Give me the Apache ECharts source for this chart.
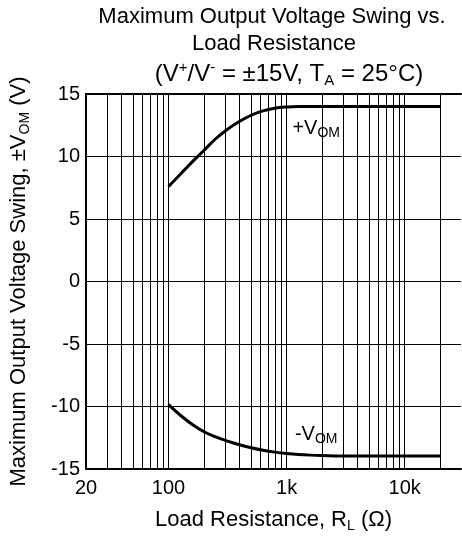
<!DOCTYPE html>
<html><head><meta charset="utf-8">
<script src="https://cdn.jsdelivr.net/npm/echarts@6/dist/echarts.min.js"></script>
<style>html,body{margin:0;padding:0;background:#fff}#c{width:462px;height:538px}</style>
</head><body><div id="c"></div>
<script>
// +V_OM curve (load resistance in ohms, volts)
const rPlus = [100, 126, 158, 200, 251, 316, 398, 501, 631, 794, 1000, 1259, 1585, 2000, 5000, 10000, 20000];
const vPlus = [7.6, 8.58, 9.55, 10.5, 11.42, 12.18, 12.8, 13.3, 13.65, 13.86, 13.96, 14.0, 14.0, 14.0, 14.0, 14.0, 14.0];
// -V_OM curve
const rMinus = [100, 126, 158, 200, 251, 316, 398, 501, 631, 794, 1000, 1259, 1585, 2000, 3000, 5000, 10000, 20000];
const vMinus = [-9.85, -10.7, -11.42, -12.02, -12.43, -12.77, -13.06, -13.3, -13.5, -13.65, -13.76, -13.84, -13.89, -13.92, -13.95, -13.95, -13.95, -13.95];
// axis ticks
const xTickLabels = [20, 100, 1000, 10000];
const xGridValues = [30, 40, 50, 60, 70, 80, 90, 100, 200, 300, 400, 500, 600, 700, 800, 900, 1000, 2000, 3000, 4000, 5000, 6000, 7000, 8000, 9000, 10000, 20000];
const yMin = -15, yMax = 15, yStep = 5;
const xMin = 20, xMax = 30000;
// curve label anchors
const plusLabelAt = [1780, 12.25];
const minusLabelAt = [1780, -12.2];

const FF = '"Liberation Sans", Arial, Helvetica, sans-serif';
const chart = echarts.init(document.getElementById('c'), null, {renderer: 'canvas'});

const subRich = {
  n: {fontSize: 20, fontFamily: FF, color: '#000', lineHeight: 24},
  s: {fontSize: 14, fontFamily: FF, color: '#000', lineHeight: 14, verticalAlign: 'bottom'}
};
const fmtK = v => v >= 1000 ? (v / 1000) + 'k' : String(v);

const option = {
  backgroundColor: '#fff',
  animation: false,
  grid: {left: 83, right: 1, top: 94, bottom: 69, containLabel: false},
  graphic: [
    {type: 'text', x: 272, y: 17, style: {text: 'Maximum Output Voltage Swing vs.', fontSize: 22, fontFamily: FF, fill: '#000', align: 'center', verticalAlign: 'middle', textAlign: 'center', textVerticalAlign: 'middle'}},
    {type: 'text', x: 274, y: 44, style: {text: 'Load Resistance', fontSize: 22, fontFamily: FF, fill: '#000', align: 'center', verticalAlign: 'middle', textAlign: 'center', textVerticalAlign: 'middle'}},
    {type: 'text', x: 289, y: 74, style: {
      text: '{m|(V}{p|+}{m|/V}{p|-}{m| = \u00b115V, T}{b|A}{m| = 25\u00b0C)}',
      align: 'center', verticalAlign: 'middle', textAlign: 'center', textVerticalAlign: 'middle',
      rich: {
        m: {fontSize: 24, fontFamily: FF, fill: '#000', color: '#000', lineHeight: 28},
        p: {fontSize: 15, fontFamily: FF, fill: '#000', color: '#000', lineHeight: 15, verticalAlign: 'top'},
        b: {fontSize: 15, fontFamily: FF, fill: '#000', color: '#000', lineHeight: 15, verticalAlign: 'bottom'}
      }
    }}
  ],
  xAxis: [{
    type: 'log', logBase: 10, min: xMin, max: xMax,
    position: 'bottom',
    name: '{n|Load Resistance, R}{s|L}{n| (\u03a9)}',
    nameLocation: 'middle', nameGap: 38,
    nameTextStyle: {rich: {
      n: {fontSize: 22, fontFamily: FF, color: '#000', lineHeight: 26},
      s: {fontSize: 14, fontFamily: FF, color: '#000', lineHeight: 14, verticalAlign: 'bottom'}
    }},
    axisLine: {show: true, onZero: false, lineStyle: {color: '#000', width: 2}},
    axisTick: {show: false},
    splitLine: {show: false},
    minorTick: {show: false},
    axisLabel: {customValues: xTickLabels, formatter: fmtK, fontSize: 20, fontFamily: FF, color: '#000', margin: 9}
  }, {
    type: 'log', logBase: 10, min: xMin, max: xMax, position: 'top',
    axisLine: {show: true, onZero: false, lineStyle: {color: '#000', width: 2}},
    axisTick: {show: false}, axisLabel: {show: false}, splitLine: {show: false}
  }],
  yAxis: {
    type: 'value', min: yMin, max: yMax, interval: yStep,
    name: '{n|Maximum Output Voltage Swing, \u00b1V}{s|OM}{n| (V)}',
    nameLocation: 'middle', nameGap: 54, nameRotate: 90,
    nameTextStyle: {rich: {
      n: {fontSize: 22, fontFamily: FF, color: '#000', lineHeight: 26},
      s: {fontSize: 14, fontFamily: FF, color: '#000', lineHeight: 14, verticalAlign: 'bottom'}
    }},
    axisLine: {show: true, onZero: false, lineStyle: {color: '#000', width: 2}},
    axisTick: {show: false},
    splitLine: {show: true, lineStyle: {color: '#000', width: 1}},
    axisLabel: {fontSize: 20, fontFamily: FF, color: '#000', margin: 6}
  },
  series: [{
    name: '+VOM', type: 'line', xAxisIndex: 0,
    data: rPlus.map((r, i) => [r, vPlus[i]]),
    smooth: 0.4, showSymbol: false, symbol: 'none',
    lineStyle: {color: '#000', width: 3}, z: 5,
    markLine: {
      silent: true, symbol: 'none', label: {show: false},
      lineStyle: {color: '#000', width: 1, type: 'solid'},
      data: xGridValues.map(v => ({xAxis: v})), z: 1
    },
    markPoint: {
      silent: true, symbol: 'circle', symbolSize: 1, itemStyle: {color: 'rgba(0,0,0,0)'},
      label: {show: true, position: 'inside', formatter: '{n|+V}{s|OM}', rich: subRich},
      data: [{coord: plusLabelAt}]
    }
  }, {
    name: '-VOM', type: 'line', xAxisIndex: 0,
    data: rMinus.map((r, i) => [r, vMinus[i]]),
    smooth: 0.4, showSymbol: false, symbol: 'none',
    lineStyle: {color: '#000', width: 3}, z: 5,
    markPoint: {
      silent: true, symbol: 'circle', symbolSize: 1, itemStyle: {color: 'rgba(0,0,0,0)'},
      label: {show: true, position: 'inside', formatter: '{n|-V}{s|OM}', rich: subRich},
      data: [{coord: minusLabelAt}]
    }
  }]
};
chart.setOption(option);
</script>
</body></html>
